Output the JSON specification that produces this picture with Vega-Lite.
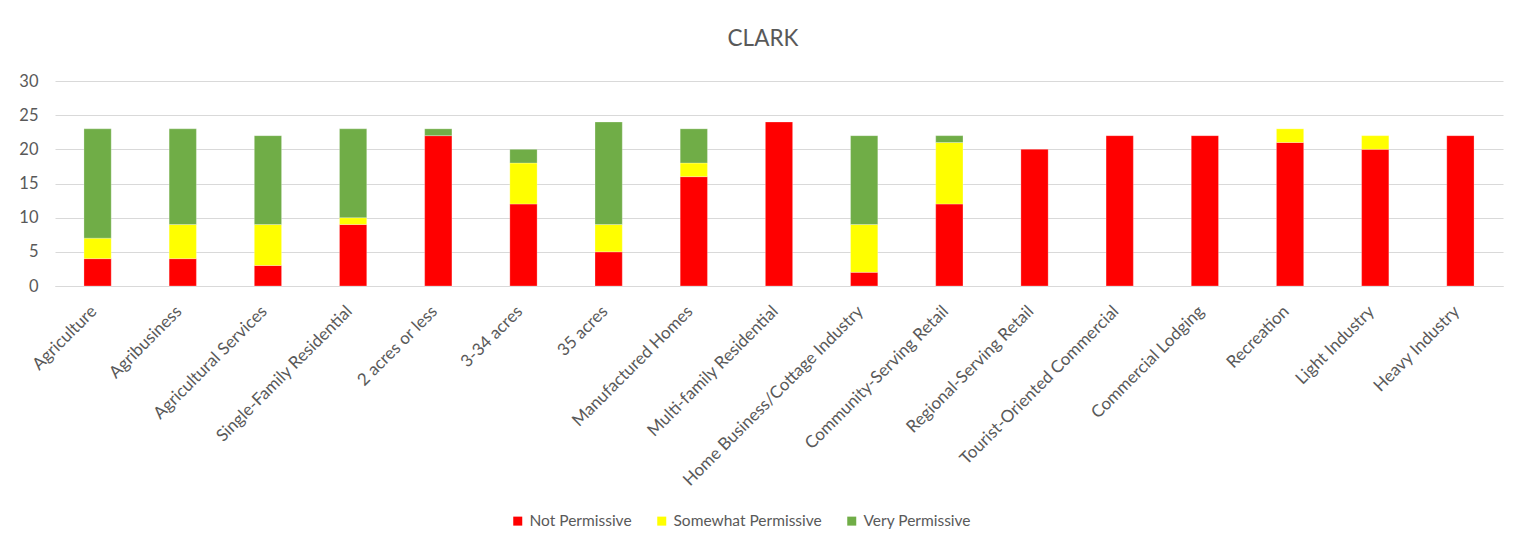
{
  "$schema": "https://vega.github.io/schema/vega-lite/v6.json",
  "autosize": "none",
  "width": 1448,
  "height": 205,
  "padding": {"left": 55, "top": 81, "right": 26, "bottom": 265},
  "background": "white",
  "title": {
    "text": "CLARK",
    "anchor": "middle",
    "frame": "group",
    "dx": -16,
    "offset": 23,
    "fontSize": 22.5,
    "font": "Lato",
    "fontWeight": "normal",
    "color": "#595959"
  },
  "data": {
    "values": [
      {"use": "Agriculture", "level": "Not Permissive", "rank": 1, "count": 4},
      {"use": "Agriculture", "level": "Somewhat Permissive", "rank": 2, "count": 3},
      {"use": "Agriculture", "level": "Very Permissive", "rank": 3, "count": 16},
      {"use": "Agribusiness", "level": "Not Permissive", "rank": 1, "count": 4},
      {"use": "Agribusiness", "level": "Somewhat Permissive", "rank": 2, "count": 5},
      {"use": "Agribusiness", "level": "Very Permissive", "rank": 3, "count": 14},
      {"use": "Agricultural Services", "level": "Not Permissive", "rank": 1, "count": 3},
      {"use": "Agricultural Services", "level": "Somewhat Permissive", "rank": 2, "count": 6},
      {"use": "Agricultural Services", "level": "Very Permissive", "rank": 3, "count": 13},
      {"use": "Single-Family Residential", "level": "Not Permissive", "rank": 1, "count": 9},
      {"use": "Single-Family Residential", "level": "Somewhat Permissive", "rank": 2, "count": 1},
      {"use": "Single-Family Residential", "level": "Very Permissive", "rank": 3, "count": 13},
      {"use": "2 acres or less", "level": "Not Permissive", "rank": 1, "count": 22},
      {"use": "2 acres or less", "level": "Very Permissive", "rank": 3, "count": 1},
      {"use": "3-34 acres", "level": "Not Permissive", "rank": 1, "count": 12},
      {"use": "3-34 acres", "level": "Somewhat Permissive", "rank": 2, "count": 6},
      {"use": "3-34 acres", "level": "Very Permissive", "rank": 3, "count": 2},
      {"use": "35 acres", "level": "Not Permissive", "rank": 1, "count": 5},
      {"use": "35 acres", "level": "Somewhat Permissive", "rank": 2, "count": 4},
      {"use": "35 acres", "level": "Very Permissive", "rank": 3, "count": 15},
      {"use": "Manufactured Homes", "level": "Not Permissive", "rank": 1, "count": 16},
      {"use": "Manufactured Homes", "level": "Somewhat Permissive", "rank": 2, "count": 2},
      {"use": "Manufactured Homes", "level": "Very Permissive", "rank": 3, "count": 5},
      {"use": "Multi-family Residential", "level": "Not Permissive", "rank": 1, "count": 24},
      {"use": "Home Business/Cottage Industry", "level": "Not Permissive", "rank": 1, "count": 2},
      {"use": "Home Business/Cottage Industry", "level": "Somewhat Permissive", "rank": 2, "count": 7},
      {"use": "Home Business/Cottage Industry", "level": "Very Permissive", "rank": 3, "count": 13},
      {"use": "Community-Serving Retail", "level": "Not Permissive", "rank": 1, "count": 12},
      {"use": "Community-Serving Retail", "level": "Somewhat Permissive", "rank": 2, "count": 9},
      {"use": "Community-Serving Retail", "level": "Very Permissive", "rank": 3, "count": 1},
      {"use": "Regional-Serving Retail", "level": "Not Permissive", "rank": 1, "count": 20},
      {"use": "Tourist-Oriented Commercial", "level": "Not Permissive", "rank": 1, "count": 22},
      {"use": "Commercial Lodging", "level": "Not Permissive", "rank": 1, "count": 22},
      {"use": "Recreation", "level": "Not Permissive", "rank": 1, "count": 21},
      {"use": "Recreation", "level": "Somewhat Permissive", "rank": 2, "count": 2},
      {"use": "Light Industry", "level": "Not Permissive", "rank": 1, "count": 20},
      {"use": "Light Industry", "level": "Somewhat Permissive", "rank": 2, "count": 2},
      {"use": "Heavy Industry", "level": "Not Permissive", "rank": 1, "count": 22}
    ]
  },
  "mark": {"type": "bar", "stroke": "white", "strokeOpacity": 0.35, "strokeWidth": 0.75},
  "encoding": {
    "x": {
      "field": "use",
      "type": "nominal",
      "sort": [
        "Agriculture", "Agribusiness", "Agricultural Services", "Single-Family Residential",
        "2 acres or less", "3-34 acres", "35 acres", "Manufactured Homes",
        "Multi-family Residential", "Home Business/Cottage Industry", "Community-Serving Retail",
        "Regional-Serving Retail", "Tourist-Oriented Commercial", "Commercial Lodging",
        "Recreation", "Light Industry", "Heavy Industry"
      ],
      "scale": {"paddingInner": 0.68, "paddingOuter": 0.34},
      "axis": {
        "title": null,
        "labelAngle": -45,
        "labelAlign": "right",
        "labelBaseline": "alphabetic",
        "labelPadding": 26,
        "labelFont": "Lato",
        "labelFontSize": 17,
        "labelColor": "#595959",
        "ticks": false,
        "domainColor": "#d9d9d9",
        "domainWidth": 1,
        "labelOverlap": false,
        "labelLimit": 300
      }
    },
    "y": {
      "field": "count",
      "type": "quantitative",
      "stack": "zero",
      "scale": {"domain": [0, 30], "nice": false},
      "axis": {
        "title": null,
        "values": [0, 5, 10, 15, 20, 25, 30],
        "domain": false,
        "ticks": false,
        "labelPadding": 17,
        "labelFont": "Lato",
        "labelFontSize": 16.5,
        "labelColor": "#595959",
        "gridColor": "#d9d9d9",
        "gridWidth": 1
      }
    },
    "color": {
      "field": "level",
      "type": "nominal",
      "sort": ["Not Permissive", "Somewhat Permissive", "Very Permissive"],
      "scale": {
        "domain": ["Not Permissive", "Somewhat Permissive", "Very Permissive"],
        "range": ["#ff0000", "#ffff00", "#70ad47"]
      },
      "legend": {
        "title": null,
        "orient": "none",
        "legendX": 455,
        "legendY": 432,
        "direction": "horizontal",
        "symbolType": "square",
        "symbolSize": 81,
        "symbolStrokeWidth": 0,
        "labelFont": "Lato",
        "labelFontSize": 15.5,
        "labelColor": "#595959",
        "labelOffset": 4,
        "columnPadding": 22
      }
    },
    "order": {"field": "rank", "type": "quantitative", "sort": "ascending"}
  },
  "config": {
    "view": {"stroke": null}
  }
}
